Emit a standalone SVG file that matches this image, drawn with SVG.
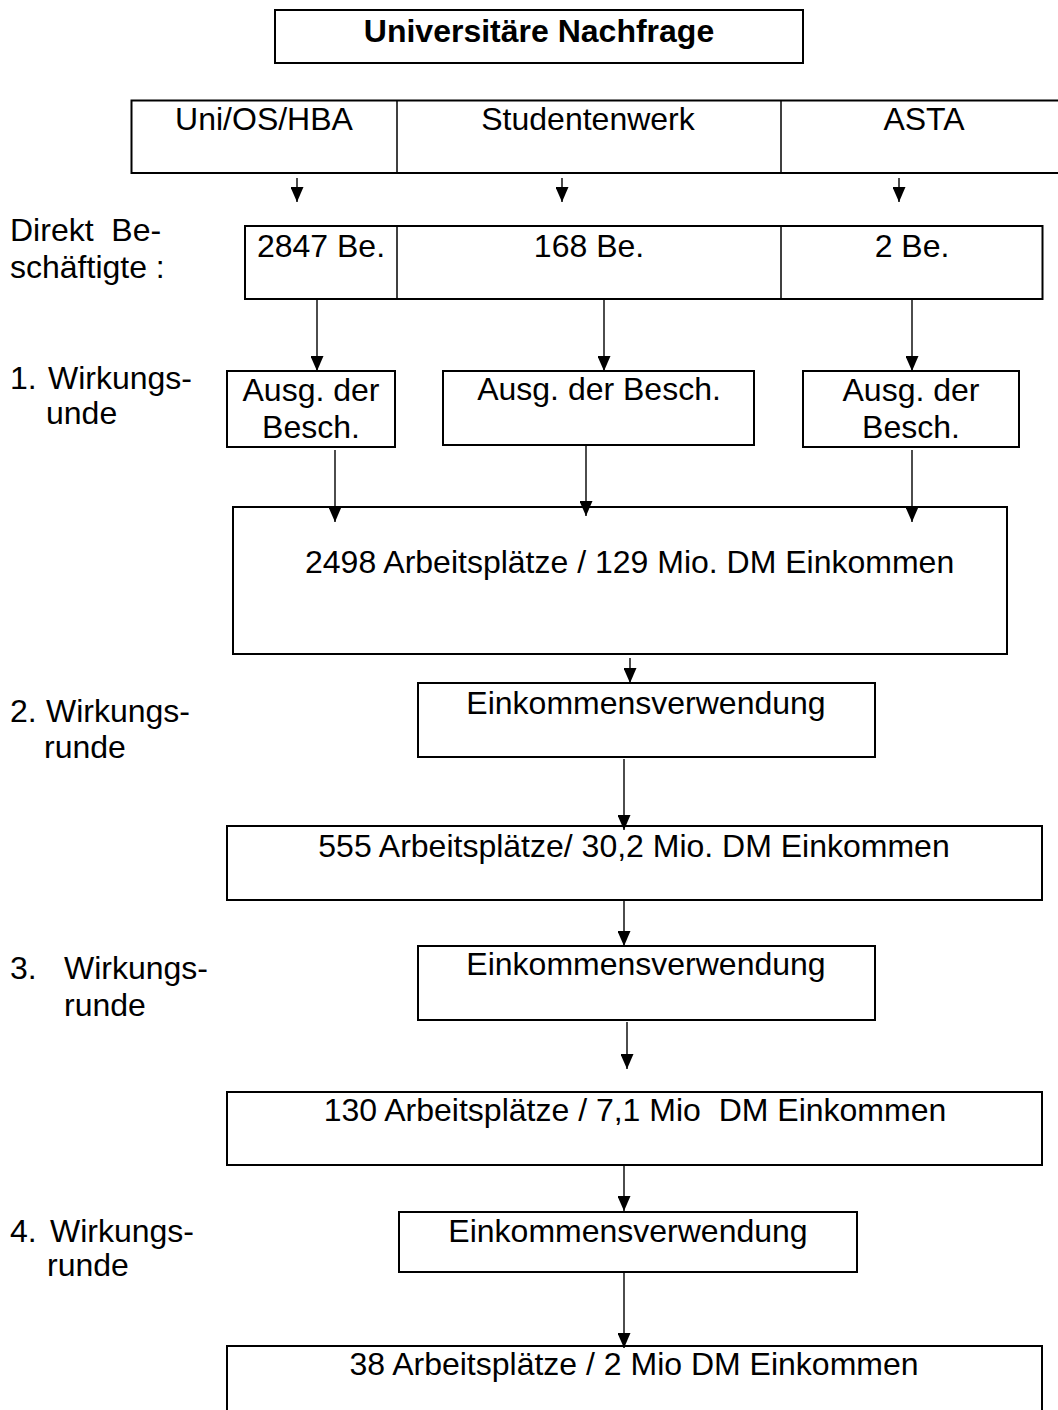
<svg xmlns="http://www.w3.org/2000/svg" width="1058" height="1410" viewBox="0 0 1058 1410">
<style>
text{font-family:"Liberation Sans",Arial,sans-serif;font-size:32px;fill:#000;white-space:pre}
.b{fill:#fff;stroke:#000;stroke-width:2}
.d{stroke:#000;stroke-width:1.5}
.c{stroke:#000;stroke-width:1.4;fill:none}
.m{text-anchor:middle}
.t{font-weight:bold}
</style>
<defs>
<marker id="ah" markerUnits="userSpaceOnUse" markerWidth="16" markerHeight="13" refX="15" refY="6.5" orient="auto" viewBox="0 0 16 13">
<path d="M0,0 L15,6.5 L0,13 Z" fill="#000"/>
</marker>
</defs>
<rect width="1058" height="1410" fill="#fff"/>

<g id="title"><rect class="b" x="275" y="10" width="528" height="53"/><text class="m t" x="539" y="42">Universitäre Nachfrage</text></g>

<g id="quellen">
<rect class="b" x="131.5" y="100.5" width="940" height="72.5"/>
<line class="d" x1="397" y1="100.5" x2="397" y2="173"/>
<line class="d" x1="781" y1="100.5" x2="781" y2="173"/>
<text class="m" x="264" y="130">Uni/OS/HBA</text>
<text class="m" x="588" y="130">Studentenwerk</text>
<text class="m" x="924" y="130">ASTA</text>
</g>

<g id="direkt">
<rect class="b" x="245" y="226" width="797.5" height="73"/>
<line class="d" x1="397" y1="226" x2="397" y2="299"/>
<line class="d" x1="781" y1="226" x2="781" y2="299"/>
<text class="m" x="321" y="257">2847 Be.</text>
<text class="m" x="589" y="257">168 Be.</text>
<text class="m" x="912" y="257">2 Be.</text>
</g>

<g id="labels">
<text x="10" y="241" xml:space="preserve">Direkt  Be-</text>
<text x="10" y="278">schäftigte :</text>
<text x="10" y="389">1.</text><text x="48" y="389">Wirkungs-</text>
<text x="46" y="424">unde</text>
<text x="10" y="722">2.</text><text x="46" y="722">Wirkungs-</text>
<text x="44" y="758">runde</text>
<text x="10" y="979">3.</text><text x="64" y="979">Wirkungs-</text>
<text x="64" y="1016">runde</text>
<text x="10" y="1242">4.</text><text x="50" y="1242">Wirkungs-</text>
<text x="47" y="1276">runde</text>
</g>

<g id="ausg1"><rect class="b" x="227" y="371" width="168" height="76"/><text class="m" x="311" y="401">Ausg. der</text><text class="m" x="311" y="438">Besch.</text></g>
<g id="ausg2"><rect class="b" x="443" y="371" width="311" height="74"/><text class="m" x="599" y="400">Ausg. der Besch.</text></g>
<g id="ausg3"><rect class="b" x="803" y="371" width="216" height="76"/><text class="m" x="911" y="401">Ausg. der</text><text class="m" x="911" y="438">Besch.</text></g>

<g id="runde1"><rect class="b" x="233" y="507" width="774" height="147"/><text x="305" y="573">2498 Arbeitsplätze / 129 Mio. DM Einkommen</text></g>

<g id="eink1"><rect class="b" x="418" y="683" width="457" height="74"/><text class="m" x="646" y="714">Einkommensverwendung</text></g>
<g id="runde2"><rect class="b" x="227" y="826" width="815" height="74"/><text class="m" x="634" y="857">555 Arbeitsplätze/ 30,2 Mio. DM Einkommen</text></g>
<g id="eink2"><rect class="b" x="418" y="946" width="457" height="74"/><text class="m" x="646" y="975">Einkommensverwendung</text></g>
<g id="runde3"><rect class="b" x="227" y="1092" width="815" height="73"/><text class="m" x="635" y="1121" xml:space="preserve">130 Arbeitsplätze / 7,1 Mio  DM Einkommen</text></g>
<g id="eink3"><rect class="b" x="399" y="1212" width="458" height="60"/><text class="m" x="628" y="1242">Einkommensverwendung</text></g>
<g id="runde4"><rect class="b" x="227" y="1346" width="815" height="80"/><text class="m" x="634" y="1375">38 Arbeitsplätze / 2 Mio DM Einkommen</text></g>

<g id="connectors">
<line class="c" x1="297" y1="178" x2="297" y2="202" marker-end="url(#ah)"/>
<line class="c" x1="562" y1="178" x2="562" y2="202" marker-end="url(#ah)"/>
<line class="c" x1="899" y1="178" x2="899" y2="202" marker-end="url(#ah)"/>
<line class="c" x1="317" y1="300" x2="317" y2="371" marker-end="url(#ah)"/>
<line class="c" x1="604" y1="300" x2="604" y2="371" marker-end="url(#ah)"/>
<line class="c" x1="912" y1="300" x2="912" y2="371" marker-end="url(#ah)"/>
<line class="c" x1="335" y1="450" x2="335" y2="522" marker-end="url(#ah)"/>
<line class="c" x1="586" y1="446" x2="586" y2="516" marker-end="url(#ah)"/>
<line class="c" x1="912" y1="450" x2="912" y2="522" marker-end="url(#ah)"/>
<line class="c" x1="630" y1="658" x2="630" y2="683" marker-end="url(#ah)"/>
<line class="c" x1="624" y1="759" x2="624" y2="830" marker-end="url(#ah)"/>
<line class="c" x1="624" y1="900" x2="624" y2="946" marker-end="url(#ah)"/>
<line class="c" x1="627" y1="1022" x2="627" y2="1069" marker-end="url(#ah)"/>
<line class="c" x1="624" y1="1165" x2="624" y2="1211" marker-end="url(#ah)"/>
<line class="c" x1="624" y1="1272" x2="624" y2="1348" marker-end="url(#ah)"/>
</g>
</svg>
